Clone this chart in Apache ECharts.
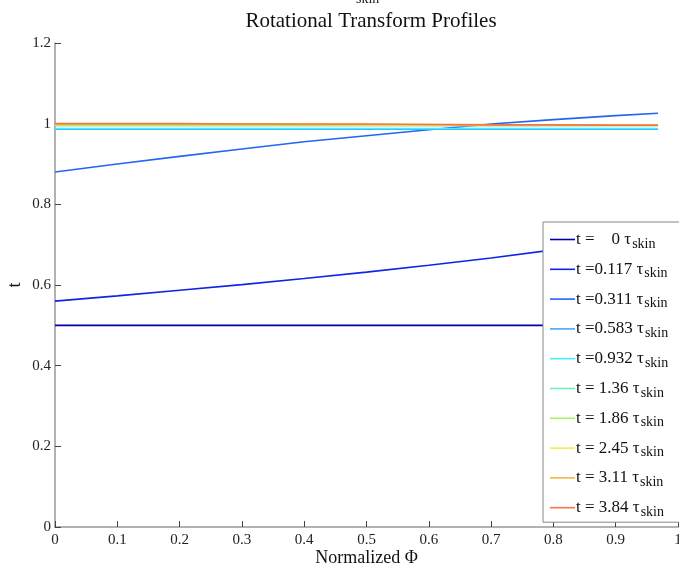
<!DOCTYPE html>
<html>
<head>
<meta charset="utf-8">
<script src="https://cdn.jsdelivr.net/npm/echarts@6/dist/echarts.min.js"></script>
<style>
  html, body { margin: 0; padding: 0; background: #fff; }
  #main { width: 679px; height: 572px; }
</style>
</head>
<body>
<div id="main"></div>
<script>
const myChart = echarts.init(document.getElementById('main'));

// normalized flux positions
const xs = [0, 0.1, 0.2, 0.3, 0.4, 0.5, 0.6, 0.7, 0.8, 0.9, 0.968];

// rotational transform at each time
const iota0 = [0.5, 0.5, 0.5, 0.5, 0.5, 0.5, 0.5, 0.5, 0.5, 0.5, 0.5];
const iota0117 = [0.56, 0.573, 0.587, 0.601, 0.616, 0.632, 0.649, 0.667, 0.687, 0.707, 0.722];
const iota0311 = [0.88, 0.9, 0.919, 0.937, 0.955, 0.97, 0.985, 0.999, 1.01, 1.02, 1.026];
const iota0583 = [0.986, 0.986, 0.986, 0.986, 0.986, 0.986, 0.986, 0.986, 0.986, 0.986, 0.986];
const iota0932 = [0.988, 0.988, 0.988, 0.988, 0.988, 0.988, 0.988, 0.988, 0.988, 0.988, 0.988];
const iota136 = [0.995, 0.995, 0.995, 0.995, 0.995, 0.995, 0.995, 0.995, 0.995, 0.995, 0.995];
const iota186 = [0.997, 0.997, 0.997, 0.997, 0.997, 0.997, 0.996, 0.996, 0.996, 0.996, 0.996];
const iota245 = [0.998, 0.998, 0.998, 0.998, 0.998, 0.997, 0.997, 0.997, 0.997, 0.997, 0.997];
const iota311 = [0.999, 0.999, 0.999, 0.999, 0.998, 0.998, 0.998, 0.997, 0.997, 0.997, 0.997];
const iota384 = [1.0, 1.0, 1.0, 0.999, 0.999, 0.999, 0.998, 0.997, 0.997, 0.996, 0.996];

const seriesValues = [iota0, iota0117, iota0311, iota0583, iota0932, iota136, iota186, iota245, iota311, iota384];
const legendLabels = ['t =    0 τ', 't =0.117 τ', 't =0.311 τ', 't =0.583 τ', 't =0.932 τ',
  't = 1.36 τ', 't = 1.86 τ', 't = 2.45 τ', 't = 3.11 τ', 't = 3.84 τ'];
const colors = ['#0000a8', '#1024e8', '#2266f4', '#44a8ff', '#44eeff',
  '#70f0b4', '#a8f064', '#f4f040', '#f8b444', '#f87444'];

const xTicks = ['0', '0.1', '0.2', '0.3', '0.4', '0.5', '0.6', '0.7', '0.8', '0.9', '1'];

const font = 'Liberation Serif, Times New Roman, serif';

const series = seriesValues.map((vals, i) => ({
  name: legendLabels[i],
  type: 'line',
  symbol: 'none',
  color: colors[i],
  lineStyle: { width: 1.6 },
  data: xs.map((x, j) => [x, vals[j]]),
  z: 2 + i,
}));

const option = {
  animation: false,
  textStyle: { fontFamily: font },
  title: {
    text: 'Rotational Transform Profiles',
    left: 366,
    textAlign: 'center',
    top: 6,
    textStyle: { fontFamily: font, fontSize: 21, fontWeight: 'normal', color: '#111' },
  },
  graphic: [
    {
      type: 'text',
      left: 356,
      top: -8,
      style: { text: 'skin', fontFamily: font, fontSize: 14, fill: '#222' },
    },
  ],
  grid: {
    left: 55,
    right: 1,
    top: 43,
    bottom: 45,
    outerBoundsMode: 'none',
  },
  legend: {
    orient: 'vertical',
    left: 543,
    top: 222,
    padding: [9, 14, 3, 7],
    itemGap: 9.8,
    itemWidth: 25,
    itemHeight: 1.6,
    icon: 'rect',
    backgroundColor: '#fff',
    borderColor: '#888',
    borderWidth: 1,
    borderRadius: 0,
    data: legendLabels,
    formatter: (name) => '{a|' + name + '}{b|skin}',
    textStyle: {
      fontFamily: font,
      color: '#111',
      rich: {
        a: { fontFamily: font, fontSize: 17, color: '#111', padding: [0, 0, 0, -4] },
        b: { fontFamily: font, fontSize: 14, color: '#111', padding: [9, 0, 0, 1] },
      },
    },
  },
  xAxis: {
    type: 'value',
    min: 0,
    max: 1,
    interval: 0.1,
    name: 'Normalized Φ',
    nameLocation: 'middle',
    nameGap: 22,
    nameMoveOverlap: false,
    nameTextStyle: { fontFamily: font, fontSize: 18, color: '#111' },
    axisLine: { lineStyle: { color: '#999', width: 1.5 } },
    axisTick: { inside: true, length: 6, lineStyle: { color: '#444' } },
    axisLabel: {
      fontFamily: font,
      fontSize: 15,
      color: '#222',
      margin: 6,
      formatter: (v) => xTicks[Math.round(v * 10)],
    },
    splitLine: { show: false },
  },
  yAxis: {
    type: 'value',
    min: 0,
    max: 1.2,
    interval: 0.2,
    name: 't',
    nameLocation: 'middle',
    nameRotate: 90,
    nameGap: 31,
    nameMoveOverlap: false,
    nameTextStyle: { fontFamily: font, fontSize: 18, color: '#111' },
    axisLine: { show: true, lineStyle: { color: '#999', width: 1.5 } },
    axisTick: { show: true, inside: true, length: 6, lineStyle: { color: '#444' } },
    axisLabel: {
      fontFamily: font,
      fontSize: 15,
      color: '#222',
      margin: 4,
      formatter: (v) => String(Math.round(v * 10) / 10),
    },
    splitLine: { show: false },
  },
  series: series,
};

myChart.setOption(option);
</script>
</body>
</html>
